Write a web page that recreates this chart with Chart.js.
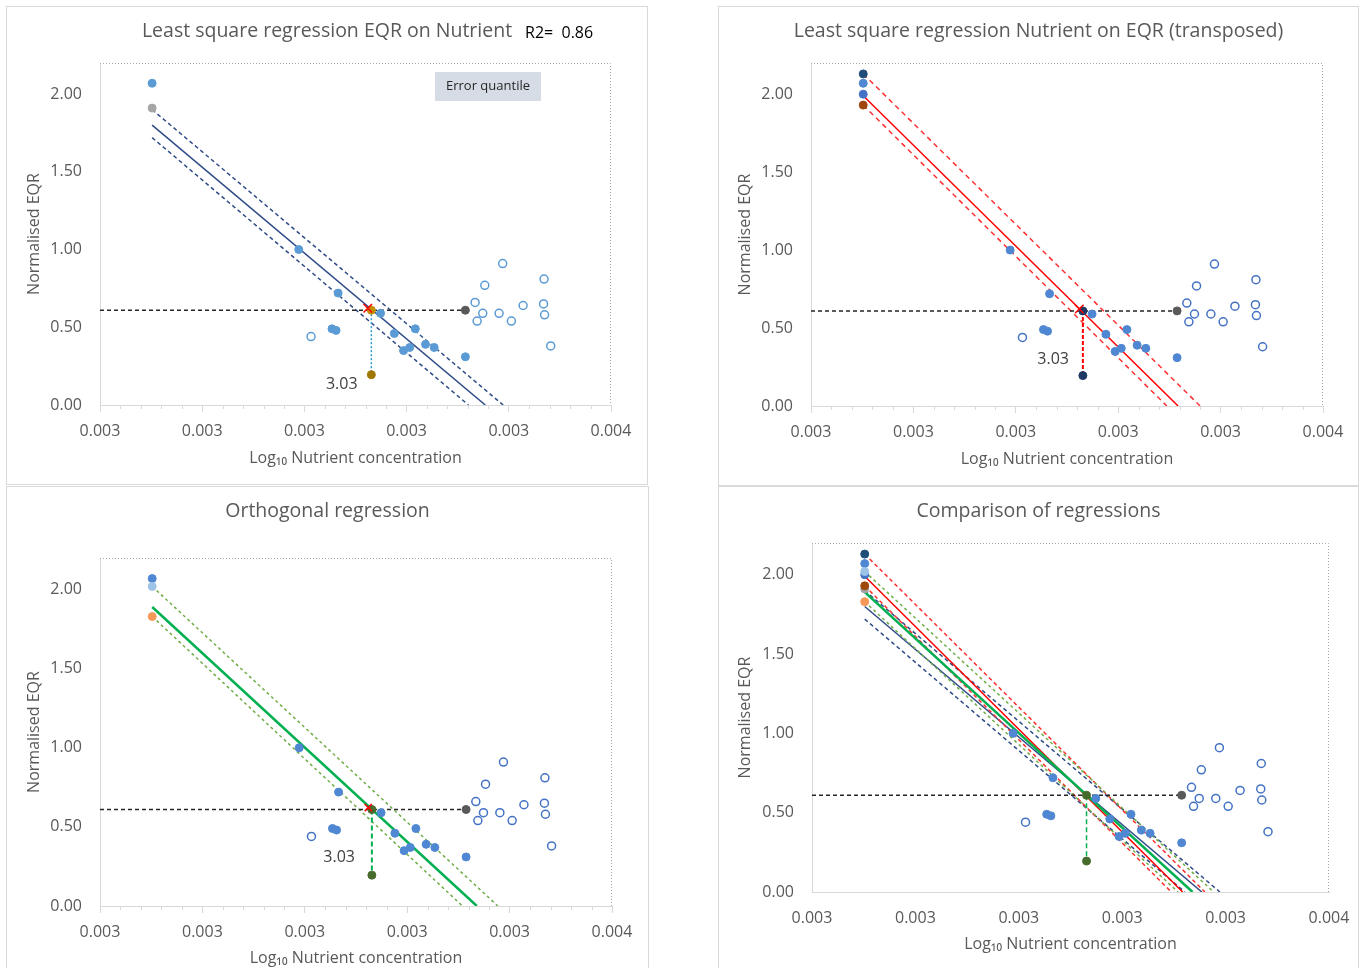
<!DOCTYPE html>
<html>
<head>
<meta charset="utf-8">
<script src="https://cdn.jsdelivr.net/npm/chart.js@4.4.1/dist/chart.umd.min.js"></script>
<style>
  body { margin: 0; background: #fff; width: 1363px; height: 968px; overflow: hidden; position: relative; }
  .panel { position: absolute; border: 1px solid #d9d9d9; background: #fff; }
  .panel canvas { display: block; }
</style>
</head>
<body>
<div class="panel" style="left:6px;top:6px"><canvas id="c1" width="640" height="477"></canvas></div>
<div class="panel" style="left:718px;top:6px"><canvas id="c2" width="639" height="478"></canvas></div>
<div class="panel" style="left:6px;top:486px"><canvas id="c3" width="641" height="481"></canvas></div>
<div class="panel" style="left:718px;top:486px"><canvas id="c4" width="639" height="481"></canvas></div>
<script>
// axis ticks
const xTickValues = [0.0026, 0.0028, 0.0030, 0.0032, 0.0034, 0.0036];
const yTickValues = [0, 0.5, 1.0, 1.5, 2.0];

// sites used in the fit
const fitX = [0.002702, 0.002989, 0.003066, 0.003149, 0.003054, 0.003062, 0.003176, 0.003217, 0.003237, 0.003254, 0.003194, 0.003206, 0.003315];
const fitY = [2.07, 1.00, 0.72, 0.59, 0.49, 0.48, 0.46, 0.49, 0.39, 0.37, 0.35, 0.37, 0.31];

// sites left out of the fit (open circles)
const outX = [0.003013, 0.003334, 0.003353, 0.003388, 0.003349, 0.003338, 0.003381, 0.003405, 0.003428, 0.003469, 0.003468, 0.003470, 0.003482];
const outY = [0.44, 0.66, 0.77, 0.91, 0.59, 0.54, 0.59, 0.54, 0.64, 0.81, 0.65, 0.58, 0.38];

// regression lines: [upper quantile, fit, lower quantile], start at lineStartX, end at y = 0
const lineStartX = 0.002702;
const olsStartY = [1.90, 1.80, 1.72];
const olsEndX = [0.003389, 0.003354, 0.003321];
const transStartY = [2.13, 1.99, 1.93];
const transEndX = [0.00336, 0.003317, 0.003295];
const orthoStartY = [2.02, 1.89, 1.83];
const orthoEndX = [0.003377, 0.003336, 0.003308];

// line start markers
const olsMarkY = 1.91;
const transMarkY = [2.13, 2.00, 1.93];
const orthoMarkY = [2.02, 1.83];

// boundary read-off
const quantileY = 0.61;
const quantileEndX = 0.003315;
const estimateX = 0.003131;
const estimateLowY = 0.195;
const crossX = 0.003124;
const crossY = 0.622;
const boundaryText = '3.03';
const boundaryLabelX = [0.003073, 0.003073, 0.003067];
const boundaryLabelY = [0.135, 0.30, 0.31];
const r2Text = 'R2=  0.86';

const FONT = "'Open Sans', 'Liberation Sans', sans-serif";
const GREY = '#595959';

const pts = (xs, ys) => xs.map((x, i) => ({x: x, y: ys[i]}));
const seg = (x0, y0, x1, y1) => [{x: x0, y: y0}, {x: x1, y: y1}];

function dots(data, color, r) {
  return {data: data, showLine: false, pointRadius: r || 4, pointBackgroundColor: color,
          pointBorderColor: color, pointBorderWidth: 1};
}
function rings(data, color) {
  return {data: data, showLine: false, pointRadius: 4, pointBackgroundColor: '#ffffff',
          pointBorderColor: color, pointBorderWidth: 1.5};
}
function line(data, color, width, dash) {
  return {data: data, showLine: true, pointRadius: 0, borderColor: color, borderWidth: width,
          borderDash: dash || [], fill: false};
}
function cross(r) {
  return {data: [{x: crossX, y: crossY}], showLine: false, pointStyle: 'crossRot', pointRadius: r,
          pointBorderColor: '#ff0000', pointBorderWidth: 1.5};
}
function regLines(startY, endX, color, solidWidth, dashColor, dash) {
  return [
    line(seg(lineStartX, startY[1], endX[1], 0), color, solidWidth),
    line(seg(lineStartX, startY[0], endX[0], 0), dashColor, 1.5, dash),
    line(seg(lineStartX, startY[2], endX[2], 0), dashColor, 1.5, dash)
  ];
}
const quantileLine = () => line(seg(xTickValues[0], quantileY, quantileEndX, quantileY), '#262626', 1.5, [4, 3]);
const dropLine = (color, width, dash) => line(seg(estimateX, quantileY, estimateX, estimateLowY), color, width, dash);

const deco = {
  id: 'deco',
  beforeDatasetsDraw(chart) {
    const {ctx, chartArea: a} = chart;
    ctx.save();
    ctx.strokeStyle = '#a6a6a6';
    ctx.lineWidth = 1;
    ctx.setLineDash([1, 2]);
    ctx.beginPath();
    ctx.moveTo(a.left, a.top + 0.5);
    ctx.lineTo(a.right - 0.5, a.top + 0.5);
    ctx.lineTo(a.right - 0.5, a.bottom);
    ctx.stroke();
    ctx.restore();
  },
  afterDraw(chart, args, o) {
    const {ctx, chartArea: a, scales: {x, y}} = chart;
    ctx.save();
    if (o.minor) {
      ctx.strokeStyle = '#d9d9d9';
      ctx.lineWidth = 1;
      for (let i = 0; i < xTickValues.length - 1; i++) {
        const step = (xTickValues[i + 1] - xTickValues[i]) / 5;
        for (let k = 1; k < 5; k++) {
          const px = Math.round(x.getPixelForValue(xTickValues[i] + k * step)) + 0.5;
          ctx.beginPath();
          ctx.moveTo(px, a.bottom);
          ctx.lineTo(px, a.bottom + 4);
          ctx.stroke();
        }
      }
    }
    if (o.label) {
      ctx.font = '16px ' + FONT;
      ctx.fillStyle = '#404040';
      ctx.textAlign = 'center';
      ctx.textBaseline = 'middle';
      ctx.fillText(o.label.text, x.getPixelForValue(o.label.x), y.getPixelForValue(o.label.y));
    }
    if (o.r2) {
      ctx.font = '16px ' + FONT;
      ctx.fillStyle = '#000000';
      ctx.textAlign = 'left';
      ctx.textBaseline = 'middle';
      ctx.fillText(o.r2, 518, 26);
    }
    if (o.box) {
      ctx.fillStyle = '#d6dce5';
      ctx.fillRect(428, 65, 106, 29);
      ctx.font = '13px ' + FONT;
      ctx.fillStyle = '#262626';
      ctx.textAlign = 'center';
      ctx.textBaseline = 'middle';
      ctx.fillText(o.box, 481, 79);
    }
    ctx.restore();
  }
};

function makeChart(id, d, title, datasets, decoOpts) {
  const cv = document.getElementById(id);
  const W = cv.width, H = cv.height;
  const tSize = 19.5;
  const lh = tSize * 1.2;
  const tTop = d.titleY - lh / 2;
  return new Chart(cv, {
    type: 'scatter',
    data: {datasets: datasets},
    options: {
      responsive: false,
      animation: false,
      events: [],
      layout: {padding: 0},
      plugins: {
        legend: {display: false},
        tooltip: {enabled: false},
        title: {display: true, text: title, color: GREY,
                font: {family: FONT, size: tSize, weight: 'normal'},
                padding: {top: tTop, bottom: d.T - tTop - lh}},
        deco: decoOpts
      },
      scales: {
        x: {
          type: 'linear', min: xTickValues[0], max: xTickValues[xTickValues.length - 1],
          afterFit: s => { s.height = H - d.B; s.paddingLeft = 0; s.paddingRight = 0; },
          afterBuildTicks: s => { s.ticks = xTickValues.map(v => ({value: v})); },
          ticks: {callback: v => Number(v).toFixed(3), color: GREY, font: {family: FONT, size: 16},
                  padding: d.ticks ? 10 : 17, maxRotation: 0, autoSkip: false},
          grid: {drawOnChartArea: false, drawTicks: d.ticks, tickLength: 7, color: '#d9d9d9'},
          border: {color: '#d9d9d9'},
          title: {display: true, text: 'Log₁₀ Nutrient concentration', color: GREY,
                  font: {family: FONT, size: 16}, padding: {top: 0, bottom: Math.max(0, H - d.xTitleY - 10)}}
        },
        y: {
          type: 'linear', min: 0, max: 2.2,
          afterFit: s => { s.width = d.L; },
          afterBuildTicks: s => { s.ticks = yTickValues.map(v => ({value: v})); },
          ticks: {callback: v => Number(v).toFixed(2), color: GREY, font: {family: FONT, size: 16}, padding: 18},
          grid: {drawOnChartArea: false, drawTicks: false, color: '#d9d9d9'},
          border: {color: '#d9d9d9'},
          title: {display: true, text: 'Normalised EQR', color: GREY,
                  font: {family: FONT, size: 16}, padding: {top: d.yTitleX - 10, bottom: 0}}
        },
        // empty right-hand margin so the title stays centred on the whole panel
        yRight: {
          type: 'linear', position: 'right', min: 0, max: 2.2,
          afterFit: s => { s.width = W - d.R; },
          ticks: {display: false},
          grid: {display: false},
          border: {display: false}
        }
      }
    },
    plugins: [deco]
  });
}

const fitPts = pts(fitX, fitY);
const outPts = pts(outX, outY);

// 1. least squares EQR on nutrient
makeChart('c1', {L: 93, R: 604, T: 56, B: 398, titleY: 24, yTitleX: 28, xTitleY: 451, ticks: true},
  'Least square regression EQR on Nutrient',
  [
    cross(6),
    dots([{x: estimateX, y: quantileY}], '#c09000'),
    dots([{x: estimateX, y: estimateLowY}], '#a07800'),
    dots([{x: quantileEndX, y: quantileY}], '#595959'),
    dots([{x: lineStartX, y: olsMarkY}], '#a5a5a5'),
    dots(fitPts, '#5b9bd5'),
    rings(outPts, '#5b9bd5'),
    dropLine('#2e9bd6', 1.5, [2, 2]),
    quantileLine(),
    ...regLines(olsStartY, olsEndX, '#2f4b87', 1.5, '#2f4b87', [4, 3])
  ],
  {minor: true, r2: r2Text, box: 'Error quantile',
   label: {text: boundaryText, x: boundaryLabelX[0], y: boundaryLabelY[0]}});

// 2. least squares nutrient on EQR
makeChart('c2', {L: 92, R: 604, T: 56, B: 399, titleY: 24, yTitleX: 27, xTitleY: 452, ticks: true},
  'Least square regression Nutrient on EQR (transposed)',
  [
    cross(6),
    dots([{x: estimateX, y: quantileY}, {x: estimateX, y: estimateLowY}], '#1f3864'),
    dots([{x: quantileEndX, y: quantileY}], '#595959'),
    dots([{x: lineStartX, y: transMarkY[0]}], '#1f4e79'),
    dots([{x: lineStartX, y: transMarkY[1]}], '#4472c4'),
    dots([{x: lineStartX, y: transMarkY[2]}], '#9e480e'),
    dots(fitPts, '#4f87d2'),
    rings(outPts, '#4472c4'),
    dropLine('#ff0000', 2, [4, 2]),
    quantileLine(),
    ...regLines(transStartY, transEndX, '#ff0000', 1.5, '#ff3030', [5, 4])
  ],
  {minor: true, label: {text: boundaryText, x: boundaryLabelX[1], y: boundaryLabelY[1]}});

// 3. orthogonal regression
makeChart('c3', {L: 93, R: 605, T: 71, B: 419, titleY: 24, yTitleX: 28, xTitleY: 471, ticks: true},
  'Orthogonal regression',
  [
    cross(5),
    dots([{x: estimateX, y: quantileY}, {x: estimateX, y: estimateLowY}], '#476b2c'),
    dots([{x: quantileEndX, y: quantileY}], '#595959'),
    dots([{x: lineStartX, y: orthoMarkY[0]}], '#9dc3e6'),
    dots([{x: lineStartX, y: orthoMarkY[1]}], '#f4995a'),
    dots(fitPts, '#4f87d2'),
    rings(outPts, '#4472c4'),
    dropLine('#00b050', 2, [5, 3]),
    quantileLine(),
    ...regLines(orthoStartY, orthoEndX, '#00b050', 2.5, '#70ad47', [3, 3])
  ],
  {minor: true, label: {text: boundaryText, x: boundaryLabelX[2], y: boundaryLabelY[2]}});

// 4. comparison
makeChart('c4', {L: 93, R: 610, T: 56, B: 405, titleY: 24, yTitleX: 27, xTitleY: 457, ticks: false},
  'Comparison of regressions',
  [
    dots([{x: estimateX, y: quantileY}, {x: estimateX, y: estimateLowY}], '#476b2c'),
    dots([{x: quantileEndX, y: quantileY}], '#595959'),
    dots([{x: lineStartX, y: transMarkY[0]}], '#1f4e79'),
    dots([{x: lineStartX, y: orthoMarkY[0]}], '#9dc3e6'),
    dots([{x: lineStartX, y: transMarkY[1]}], '#4472c4'),
    dots([{x: lineStartX, y: transMarkY[2]}], '#9e480e'),
    dots([{x: lineStartX, y: olsMarkY}], '#a5a5a5'),
    dots([{x: lineStartX, y: orthoMarkY[1]}], '#f4995a'),
    dots(fitPts, '#4f87d2'),
    rings(outPts, '#4472c4'),
    dropLine('#00b050', 1.5, [5, 3]),
    quantileLine(),
    ...regLines(orthoStartY, orthoEndX, '#00b050', 2.5, '#70ad47', [3, 3]),
    ...regLines(transStartY, transEndX, '#ff0000', 1.5, '#ff3030', [4, 3]),
    ...regLines(olsStartY, olsEndX, '#2f4b87', 1.5, '#2f4b87', [4, 3])
  ],
  {minor: false});
</script>
</body>
</html>
